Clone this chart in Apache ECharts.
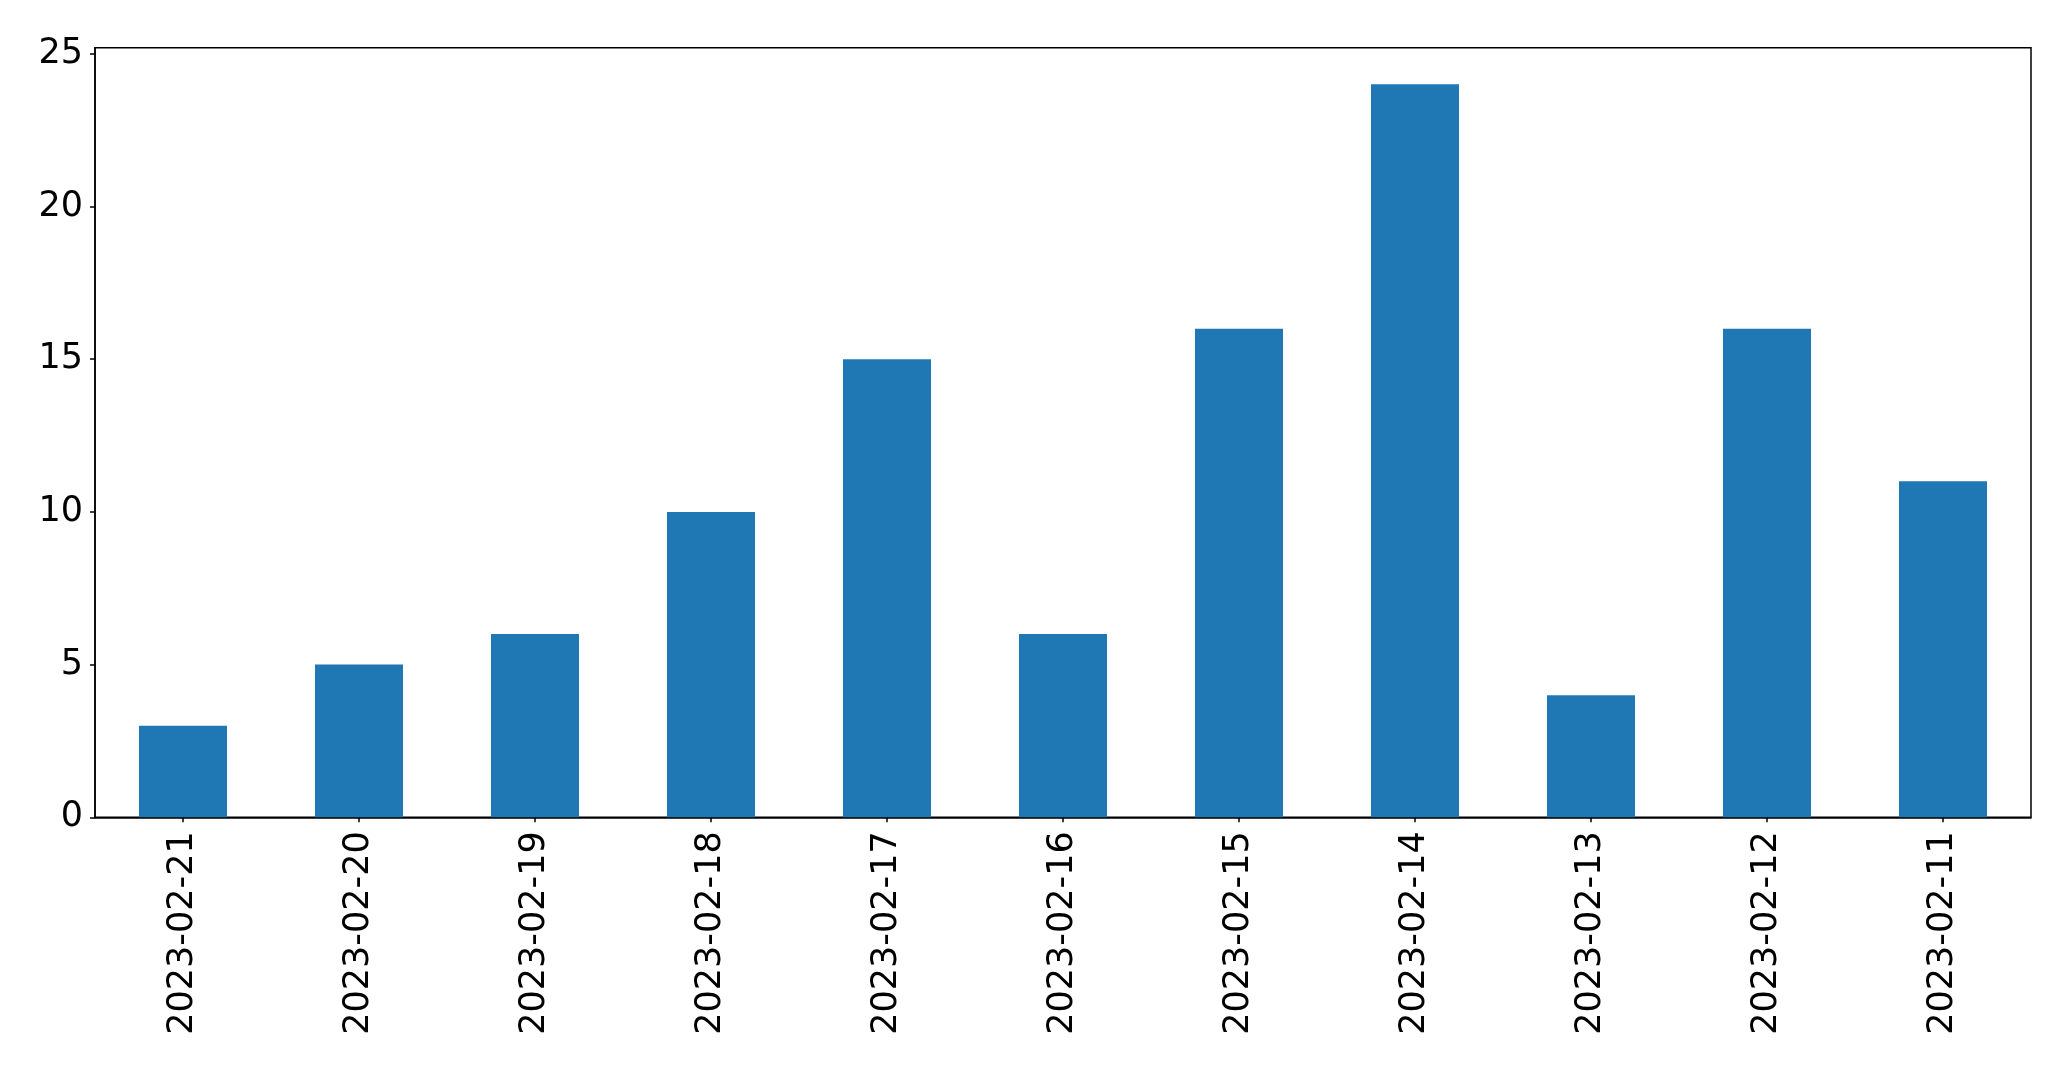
<!DOCTYPE html>
<html>
<head>
<meta charset="utf-8">
<script src="https://cdn.jsdelivr.net/npm/echarts@6/dist/echarts.min.js"></script>
<style>html,body{margin:0;padding:0;background:#fff}#c{width:2071px;height:1069px}</style>
</head>
<body>
<div id="c"></div>
<script>
const categories = ['2023-02-21','2023-02-20','2023-02-19','2023-02-18','2023-02-17','2023-02-16','2023-02-15','2023-02-14','2023-02-13','2023-02-12','2023-02-11'];
const values = [3, 5, 6, 10, 15, 6, 16, 24, 4, 16, 11];
const yTicks = [0, 5, 10, 15, 20, 25];

const chart = echarts.init(document.getElementById('c'), null, {renderer: 'canvas'});
const font = 'DejaVu Sans';
chart.setOption({
  animation: false,
  backgroundColor: '#fff',
  grid: {left: 95, right: 40, top: 47.7, bottom: 251.7, show: true, borderColor: '#000', borderWidth: 1.5, backgroundColor: 'transparent'},
  xAxis: {
    type: 'category',
    data: categories,
    boundaryGap: true,
    axisLine: {show: true, lineStyle: {color: '#000', width: 1.5}},
    axisTick: {show: true, alignWithLabel: true, length: 5, lineStyle: {color: '#000', width: 1.5}},
    axisLabel: {rotate: 90, margin: 14, fontFamily: font, fontSize: 35, color: '#000'},
    splitLine: {show: false}
  },
  yAxis: {
    type: 'value',
    min: 0, max: 25.2, interval: 5,
    axisLine: {show: true, lineStyle: {color: '#000', width: 1.5}},
    axisTick: {show: true, length: 5, customValues: yTicks, lineStyle: {color: '#000', width: 1.5}},
    axisLabel: {margin: 12, fontFamily: font, fontSize: 35, color: '#000', customValues: yTicks},
    splitLine: {show: false}
  },
  series: [{
    type: 'bar',
    data: values,
    barWidth: '50%',
    itemStyle: {color: '#1f77b4'}
  }]
});
</script>
</body>
</html>
